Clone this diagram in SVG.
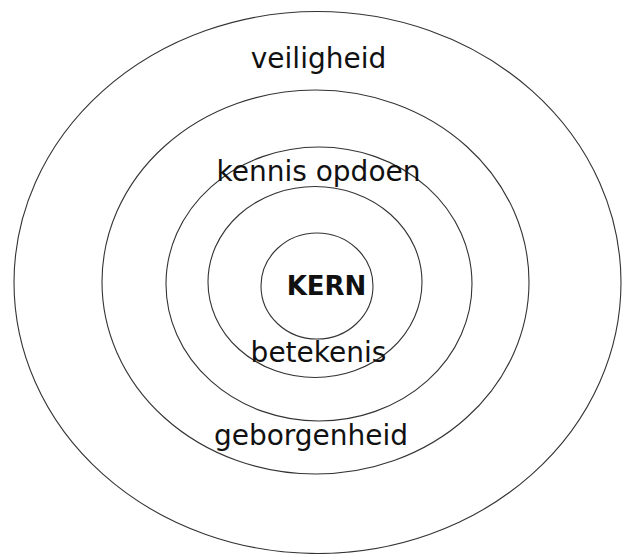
<svg xmlns="http://www.w3.org/2000/svg" width="622" height="554" viewBox="0 0 622 554">
<style>
.ring{fill:none;stroke:#333;stroke-width:1.1}
.lbl{font-family:"DejaVu Sans","Liberation Sans",sans-serif;font-size:28px;fill:#111;text-anchor:middle}
.bold{font-weight:bold;font-size:26px}
</style>
<rect width="622" height="554" fill="#fff"/>
<g id="ring-veiligheid">
<ellipse class="ring" cx="317.5" cy="282.5" rx="303.5" ry="271"/>
<text class="lbl" x="318.5" y="68">veiligheid</text>
</g>
<g id="ring-geborgenheid">
<ellipse class="ring" cx="315.5" cy="282" rx="213.5" ry="192"/>
<text class="lbl" x="311" y="445">geborgenheid</text>
</g>
<g id="ring-kennis">
<ellipse class="ring" cx="319" cy="284" rx="153" ry="137"/>
<text class="lbl" x="318.5" y="181">kennis opdoen</text>
</g>
<g id="ring-betekenis">
<ellipse class="ring" cx="315" cy="282" rx="107" ry="95.5"/>
<text class="lbl" x="318.5" y="362">betekenis</text>
</g>
<g id="kern">
<ellipse class="ring" cx="317" cy="286" rx="56" ry="53"/>
<text class="lbl bold" x="326.5" y="295">KERN</text>
</g>
</svg>
